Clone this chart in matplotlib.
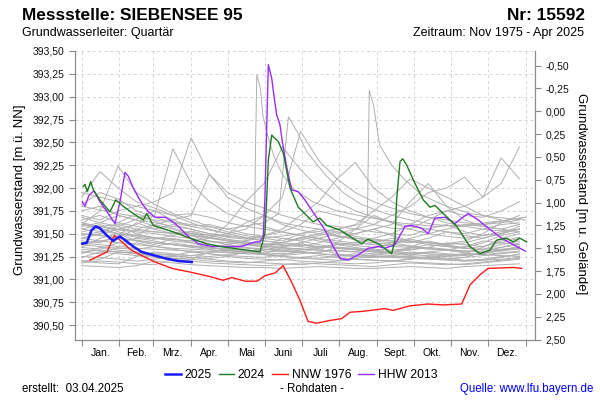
import matplotlib
matplotlib.use('Agg')
import matplotlib.pyplot as plt
from matplotlib.lines import Line2D
from matplotlib.ticker import FixedLocator, FuncFormatter, NullFormatter

plt.rcParams['font.family'] = ['Liberation Sans', 'DejaVu Sans']

# Geländehöhe (m ü. NN), für die rechte Achse
GROUND = 392.84

month_starts = [0, 31, 59, 90, 120, 151, 181, 212, 243, 273, 304, 334, 365]
month_names = ['Jan.', 'Feb.', 'Mrz.', 'Apr.', 'Mai', 'Juni', 'Juli', 'Aug.',
               'Sept.', 'Okt.', 'Nov.', 'Dez.']

# 2025
days_2025 = [0.5, 4.1, 8.2, 11.5, 15, 19.2, 23.3, 26, 28, 31.5, 35.6, 42.4, 49.3,
             57.6, 68.5, 79.4, 90.5]
lvl_2025 = [391.39, 391.40, 391.54, 391.58, 391.56, 391.50, 391.45, 391.42, 391.44,
            391.47, 391.43, 391.36, 391.30, 391.27, 391.23, 391.20, 391.19]

# 2024
days_2024 = [1.3, 2.7, 4.6, 7.4, 9.5, 15, 20.6, 23.3, 28, 34.2, 42.4, 50.7, 53.5, 58.9,
             75.3, 89.1, 102.8, 113.7, 124.7, 135.7, 146.6, 150.7, 152.1, 153.5, 156.3,
             157.6, 161.7, 165.8, 171.3, 178.1, 190.2, 195.9, 201.5, 212.4, 220.6, 230.3,
             235.4, 245.3, 254.9, 257.6, 259, 261.8, 264, 267.3, 274.1, 280.9, 286.4,
             290.5, 297.4, 308.4, 319.3, 327.5, 335.7, 341.3, 349.5, 354.9, 360.4, 366]
lvl_2024 = [392.02, 392.04, 391.96, 392.07, 391.98, 391.87, 391.78, 391.74, 391.87, 391.80,
            391.72, 391.65, 391.72, 391.59, 391.52, 391.45, 391.39, 391.36, 391.34, 391.32,
            391.30, 391.51, 391.87, 392.31, 392.58, 392.56, 392.51, 392.38, 392.00, 391.79,
            391.63, 391.67, 391.59, 391.54, 391.47, 391.39, 391.44, 391.38, 391.28, 391.43,
            391.87, 392.29, 392.32, 392.25, 392.05, 391.87, 391.79, 391.81, 391.72, 391.58,
            391.36, 391.28, 391.32, 391.43, 391.45, 391.41, 391.45, 391.41]

# NNW 1976
days_1976 = [6.8, 20.8, 26.9, 31.5, 39.7, 47.9, 60.3, 74.3, 89.1, 105.5, 116.2, 123.6,
             134.3, 144.2, 150.8, 159, 165.6, 173, 179.5, 186.1, 193.3, 204.2, 213.8,
             220.6, 231.3, 249.4, 256, 270, 284.8, 297.1, 312.5, 319.4, 327.6, 334.2,
             354.8, 361.8]
lvl_1976 = [391.21, 391.30, 391.48, 391.43, 391.33, 391.27, 391.19, 391.12, 391.08, 391.03,
            390.99, 391.02, 390.98, 390.98, 391.04, 391.07, 391.15, 390.96, 390.77, 390.54,
            390.52, 390.55, 390.57, 390.64, 390.65, 390.68, 390.66, 390.71, 390.73, 390.72,
            390.73, 390.94, 391.05, 391.12, 391.13, 391.12]

# HHW 2013
days_2013 = [0.5, 2.7, 6, 10.1, 15, 21.9, 27.4, 31.5, 35.6, 38.3, 42.4, 46.5, 50.7, 54.8,
             60.3, 68.5, 74, 79.4, 87.7, 95.9, 106.9, 115.1, 117.8, 131.6, 142.5, 146.6,
             149.3, 150.7, 152.1, 153.5, 156.3, 158.4, 160.4, 163.1, 165, 168.6, 172.7,
             178.1, 183.6, 189.1, 194.6, 200.1, 205.6, 212.4, 219.2, 227.5, 235.7, 243.9,
             249.4, 257.6, 265.9, 271.4, 279.6, 285, 290.5, 298.8, 307, 312.5, 317.9,
             326.2, 334.4, 345.4, 353.6, 364.6]
lvl_2013 = [391.85, 391.80, 391.92, 391.97, 391.85, 391.72, 391.61, 391.85, 392.17, 392.13,
            392.00, 391.90, 391.81, 391.74, 391.68, 391.68, 391.64, 391.58, 391.47, 391.39,
            391.36, 391.36, 391.36, 391.36, 391.41, 391.41, 391.47, 391.90, 392.63, 393.35,
            393.20, 392.98, 392.80, 392.69, 392.51, 392.23, 391.98, 391.96, 391.87, 391.76,
            391.65, 391.54, 391.39, 391.23, 391.21, 391.27, 391.34, 391.36, 391.34, 391.38,
            391.58, 391.59, 391.56, 391.50, 391.67, 391.68, 391.61, 391.67, 391.72, 391.65,
            391.56, 391.45, 391.39, 391.31]

# übrige Jahre (grau), 15-Tage-Raster
gray_days = list(range(0, 361, 15))
g01 = [391.15, 391.14, 391.13, 391.15, 391.20, 391.18, 391.16, 391.15, 391.14, 391.13, 391.13, 391.12, 391.13,
       391.14, 391.13, 391.12, 391.12, 391.13, 391.14, 391.13, 391.12, 391.14, 391.15, 391.16, 391.17]
g02 = [391.20, 391.22, 391.30, 391.28, 391.25, 391.23, 391.22, 391.20, 391.19, 391.18, 391.20, 391.22, 391.20,
       391.19, 391.18, 391.17, 391.18, 391.20, 391.19, 391.18, 391.17, 391.16, 391.18, 391.20, 391.22]
g03 = [391.35, 391.45, 391.50, 391.42, 391.38, 391.45, 391.40, 391.35, 391.32, 391.30, 391.28, 391.35, 391.40,
       391.33, 391.28, 391.25, 391.24, 391.26, 391.30, 391.28, 391.25, 391.24, 391.30, 391.35, 391.38]
g04 = [391.55, 391.60, 391.52, 391.48, 391.60, 391.55, 391.48, 391.42, 391.38, 391.35, 391.33, 391.31, 391.30,
       391.29, 391.35, 391.33, 391.30, 391.28, 391.27, 391.26, 391.25, 391.28, 391.35, 391.45, 391.50]
g05 = [391.90, 392.18, 392.00, 391.85, 391.78, 391.70, 391.62, 391.55, 391.50, 391.46, 391.42, 391.40, 391.38,
       391.36, 391.34, 391.33, 391.32, 391.30, 391.32, 391.35, 391.33, 391.31, 391.30, 391.32, 391.35]
g06 = [391.60, 391.75, 392.24, 391.95, 391.82, 391.72, 391.65, 391.58, 391.52, 391.48, 391.45, 391.42, 391.50,
       391.55, 391.48, 391.43, 391.40, 391.38, 391.36, 391.34, 391.32, 391.36, 391.42, 391.40, 391.38]
g07 = [391.45, 391.50, 391.55, 391.60, 391.70, 392.43, 392.05, 391.85, 391.72, 391.65, 391.58, 391.52, 391.48,
       391.45, 391.42, 391.40, 391.38, 391.36, 391.35, 391.33, 391.32, 391.31, 391.30, 391.32, 391.33]
g08 = [391.70, 391.65, 391.75, 391.80, 391.85, 391.95, 392.55, 392.15, 391.95, 391.85, 391.78, 391.70, 391.65,
       391.60, 391.58, 391.55, 391.52, 391.50, 391.48, 391.55, 391.60, 391.52, 391.48, 391.50, 391.55]
g09 = [391.50, 391.48, 391.46, 391.55, 391.60, 391.65, 391.70, 392.15, 391.90, 391.78, 391.70, 391.62, 391.58,
       391.55, 391.52, 391.50, 391.55, 391.60, 391.85, 392.05, 391.80, 391.65, 391.58, 391.55, 391.52]
g10 = [391.62, 391.58, 391.60, 391.55, 391.52, 391.50, 391.48, 391.46, 391.50, 391.55, 391.70, 391.90, 392.62,
       392.30, 392.10, 391.95, 391.85, 391.78, 391.72, 391.68, 391.65, 391.62, 391.60, 391.62, 391.65]
g11 = [391.40, 391.42, 391.45, 391.43, 391.40, 391.38, 391.36, 391.35, 391.38, 391.42, 391.48, 391.55, 391.70,
       391.85, 392.10, 392.28, 392.00, 391.85, 391.75, 391.68, 391.62, 391.58, 391.55, 391.53, 391.55]
g12 = [391.30, 391.32, 391.30, 391.28, 391.26, 391.25, 391.24, 391.23, 391.25, 391.30, 391.35, 391.40, 391.45,
       391.50, 391.55, 391.60, 391.75, 391.90, 392.10, 392.00, 391.90, 391.80, 391.70, 391.65, 391.60]
g13 = [391.45, 391.42, 391.40, 391.38, 391.36, 391.34, 391.33, 391.32, 391.31, 391.30, 391.32, 391.36, 391.40,
       391.45, 391.50, 391.55, 391.60, 391.70, 391.80, 391.95, 392.00, 392.12, 391.90, 392.05, 392.45]
g14 = [391.50, 391.48, 391.45, 391.42, 391.40, 391.38, 391.36, 391.34, 391.33, 391.32, 391.31, 391.30, 391.32,
       391.35, 391.38, 391.40, 391.45, 391.50, 391.60, 391.70, 391.75, 391.80, 391.90, 392.33, 392.10]
g15 = [391.75, 391.80, 391.70, 391.65, 391.62, 391.58, 391.55, 391.50, 391.48, 391.45, 391.42, 391.40, 391.45,
       391.50, 391.48, 391.45, 391.42, 391.40, 391.45, 391.50, 391.55, 391.60, 391.58, 391.55, 391.60]
g16 = [391.30, 391.28, 391.35, 391.40, 391.36, 391.33, 391.30, 391.28, 391.26, 391.25, 391.24, 391.27, 391.30,
       391.28, 391.26, 391.25, 391.27, 391.30, 391.33, 391.35, 391.40, 391.38, 391.36, 391.40, 391.45]
g17 = [391.95, 391.90, 391.85, 391.80, 391.75, 391.70, 391.72, 391.68, 391.62, 391.58, 391.55, 391.52, 391.60,
       391.75, 391.70, 391.65, 391.60, 391.56, 391.55, 391.65, 391.75, 391.70, 391.68, 391.75, 391.85]
g18 = [391.25, 391.24, 391.22, 391.20, 391.22, 391.26, 391.24, 391.22, 391.20, 391.19, 391.18, 391.17, 391.16,
       391.18, 391.20, 391.22, 391.21, 391.20, 391.22, 391.24, 391.22, 391.20, 391.21, 391.24, 391.28]
g19 = [391.40, 391.38, 391.36, 391.34, 391.33, 391.32, 391.31, 391.30, 391.29, 391.28, 391.35, 391.45, 391.42,
       391.38, 391.35, 391.33, 391.31, 391.30, 391.35, 391.42, 391.38, 391.34, 391.32, 391.33, 391.35]
g20 = [391.60, 391.55, 391.50, 391.48, 391.46, 391.44, 391.42, 391.45, 391.60, 391.85, 392.05, 392.45, 392.20,
       392.00, 391.85, 391.75, 391.68, 391.62, 391.58, 391.55, 391.52, 391.50, 391.55, 391.60, 391.62]
g21 = [391.48, 391.52, 391.58, 391.50, 391.45, 391.42, 391.40, 391.38, 391.36, 391.34, 391.33, 391.32, 391.34,
       391.36, 391.34, 391.32, 391.30, 391.29, 391.28, 391.30, 391.28, 391.27, 391.29, 391.31, 391.34]
g22 = [391.65, 391.70, 391.62, 391.58, 391.55, 391.60, 391.55, 391.50, 391.46, 391.44, 391.48, 391.52, 391.48,
       391.44, 391.40, 391.38, 391.40, 391.45, 391.42, 391.40, 391.38, 391.40, 391.45, 391.50, 391.55]
g23 = [391.35, 391.33, 391.40, 391.45, 391.42, 391.38, 391.35, 391.33, 391.30, 391.28, 391.27, 391.25, 391.24,
       391.23, 391.25, 391.28, 391.26, 391.25, 391.24, 391.23, 391.22, 391.24, 391.26, 391.28, 391.30]
g24 = [391.20, 391.18, 391.17, 391.25, 391.30, 391.28, 391.26, 391.25, 391.27, 391.30, 391.28, 391.26, 391.28,
       391.30, 391.32, 391.30, 391.28, 391.26, 391.25, 391.24, 391.26, 391.28, 391.27, 391.26, 391.25]
g25 = [391.28, 391.35, 391.32, 391.30, 391.28, 391.26, 391.30, 391.28, 391.25, 391.23, 391.22, 391.21, 391.24,
       391.26, 391.24, 391.22, 391.21, 391.20, 391.22, 391.25, 391.23, 391.21, 391.22, 391.25, 391.27]
g26 = [391.58, 391.62, 391.70, 391.65, 391.58, 391.52, 391.48, 391.45, 391.42, 391.40, 391.38, 391.40, 391.46,
       391.42, 391.39, 391.37, 391.35, 391.38, 391.44, 391.40, 391.37, 391.35, 391.40, 391.48, 391.52]
g27 = [391.82, 391.95, 391.88, 391.75, 391.68, 391.62, 391.58, 391.60, 391.55, 391.50, 391.47, 391.45, 391.43,
       391.48, 391.52, 391.47, 391.44, 391.42, 391.40, 391.45, 391.52, 391.48, 391.45, 391.50, 391.58]
g28 = [391.42, 391.40, 391.48, 391.62, 391.55, 391.50, 391.52, 391.46, 391.42, 391.39, 391.37, 391.35, 391.33,
       391.32, 391.31, 391.30, 391.34, 391.40, 391.37, 391.34, 391.32, 391.30, 391.33, 391.38, 391.42]
g29 = [391.18, 391.20, 391.19, 391.17, 391.16, 391.22, 391.20, 391.18, 391.17, 391.16, 391.15, 391.16, 391.18,
       391.17, 391.16, 391.15, 391.14, 391.16, 391.18, 391.17, 391.16, 391.17, 391.19, 391.21, 391.23]
g30 = [391.68, 391.62, 391.58, 391.66, 391.75, 391.65, 391.58, 391.54, 391.50, 391.62, 391.70, 391.60, 391.54,
       391.50, 391.47, 391.45, 391.43, 391.42, 391.41, 391.40, 391.39, 391.42, 391.50, 391.62, 391.70]
g31 = [391.38, 391.36, 391.34, 391.33, 391.36, 391.40, 391.37, 391.35, 391.33, 391.31, 391.29, 391.28, 391.30,
       391.34, 391.38, 391.35, 391.32, 391.30, 391.29, 391.28, 391.27, 391.26, 391.28, 391.32, 391.36]
g32 = [391.52, 391.56, 391.50, 391.46, 391.44, 391.48, 391.53, 391.48, 391.44, 391.41, 391.39, 391.37, 391.36,
       391.40, 391.45, 391.50, 391.55, 391.48, 391.42, 391.38, 391.36, 391.34, 391.36, 391.42, 391.46]
g33 = [391.24, 391.30, 391.28, 391.26, 391.24, 391.23, 391.22, 391.30, 391.32, 391.29, 391.27, 391.25, 391.23,
       391.22, 391.21, 391.23, 391.25, 391.24, 391.23, 391.22, 391.21, 391.20, 391.21, 391.22, 391.24]
g34 = [391.60, 391.58, 391.54, 391.52, 391.50, 391.47, 391.45, 391.42, 391.40, 391.38, 391.36, 391.34, 391.33,
       391.32, 391.40, 391.55, 391.70, 391.62, 391.55, 391.50, 391.47, 391.45, 391.48, 391.52, 391.55]
g35 = [391.45, 391.50, 391.62, 391.72, 391.64, 391.56, 391.50, 391.46, 391.43, 391.41, 391.39, 391.38, 391.37,
       391.36, 391.35, 391.34, 391.33, 391.32, 391.34, 391.38, 391.36, 391.34, 391.33, 391.35, 391.40]
g36 = [391.33, 391.31, 391.30, 391.29, 391.28, 391.27, 391.26, 391.29, 391.34, 391.38, 391.35, 391.32, 391.30,
       391.28, 391.27, 391.26, 391.25, 391.24, 391.26, 391.30, 391.32, 391.29, 391.27, 391.29, 391.31]

# graue Jahre mit scharfen Spitzen (eigenes Tagesraster)
mai_days = [0, 30, 60, 90, 120, 142, 143, 144, 147, 149, 152, 158, 165, 175, 190, 210, 235, 260, 290,
            320, 350, 365]
mai_lvl = [391.60, 391.55, 391.52, 391.50, 391.47, 391.45, 392.47, 393.24, 393.09, 392.80, 392.62, 392.35,
           392.15, 391.98, 391.85, 391.75, 391.68, 391.62, 391.58, 391.60, 391.65, 391.68]
jun_days = [0, 30, 60, 90, 120, 150, 162, 170, 177, 185, 200, 215, 230, 250, 270, 290, 310, 330, 350, 365]
jun_lvl = [391.80, 391.72, 391.65, 391.60, 391.55, 391.62, 391.72, 392.78, 392.62, 392.40, 392.15, 391.95,
           391.82, 391.72, 391.65, 391.60, 391.58, 391.60, 391.65, 391.68]
aug_days = [0, 30, 60, 90, 120, 150, 180, 210, 228, 235, 236.5, 240, 245, 255, 265, 280, 300, 320, 340, 365]
aug_lvl = [391.55, 391.50, 391.45, 391.42, 391.40, 391.45, 391.50, 391.55, 391.60, 391.70, 393.07, 392.91,
           392.47, 392.25, 392.10, 391.92, 391.80, 391.72, 391.68, 391.65]

gray_years = [g01, g02, g03, g04, g05, g06, g07, g08, g09, g10, g11, g12, g13, g14, g15, g16,
              g17, g18, g19, g20, g21, g22, g23, g24, g25, g26, g27, g28, g29, g30, g31, g32,
              g33, g34, g35, g36]

fig = plt.figure(figsize=(6, 4), dpi=100)
ax = fig.add_axes([75 / 600, 60 / 400, 460 / 600, 289 / 400])
y_lo, y_hi = 390.336, 393.50
ax.set_xlim(-5.5, 372.8)
ax.set_ylim(y_lo, y_hi)

grid_kw = dict(color='#d4d4d4', lw=0.7, ls=(0, (3, 3)), zorder=0)
for d in month_starts:
    ax.axvline(d, **grid_kw)
lev_ticks = [390.50 + 0.25 * i for i in range(13)]
for v in lev_ticks:
    ax.axhline(v, **grid_kw)

gray_c = '#b0b0b0'
for g in gray_years:
    ax.plot(gray_days, g, color=gray_c, lw=0.7, zorder=1)
ax.plot(mai_days, mai_lvl, color=gray_c, lw=0.7, zorder=1)
ax.plot(jun_days, jun_lvl, color=gray_c, lw=0.7, zorder=1)
ax.plot(aug_days, aug_lvl, color=gray_c, lw=0.7, zorder=1)

c_2025, c_2024, c_1976, c_2013 = '#1a1aff', '#1f7a1f', '#ff1a1a', '#9a2bff'
ax.plot(days_2013, lvl_2013, color=c_2013, lw=1.0, zorder=3)
ax.plot(days_1976, lvl_1976, color=c_1976, lw=1.0, zorder=3)
ax.plot(days_2024, lvl_2024, color=c_2024, lw=1.0, zorder=4)
ax.plot(days_2025, lvl_2025, color=c_2025, lw=1.8, zorder=5)

comma = FuncFormatter(lambda v, p: f'{v:.2f}'.replace('.', ','))
spine_c = '#8a8a8a'

ax.spines['top'].set_visible(False)
for s in ['left', 'bottom', 'right']:
    ax.spines[s].set_color(spine_c)

ax.yaxis.set_major_locator(FixedLocator(lev_ticks))
ax.yaxis.set_major_formatter(comma)
ax.xaxis.set_major_locator(FixedLocator(month_starts))
ax.xaxis.set_major_formatter(NullFormatter())
mids = [(month_starts[i] + month_starts[i + 1]) / 2 for i in range(12)]
ax.xaxis.set_minor_locator(FixedLocator(mids))
ax.set_xticklabels(month_names, minor=True)
ax.tick_params(axis='both', which='major', direction='out', length=4, color=spine_c,
               labelsize=7.5, labelcolor='#111111')
ax.tick_params(axis='x', which='minor', length=0, labelsize=7.5, pad=6)

# rechte Achse: Flurabstand
ax2 = ax.twinx()
ax2.set_ylim(GROUND - y_lo, GROUND - y_hi)
ax2.yaxis.set_major_locator(FixedLocator([-0.50 + 0.25 * i for i in range(13)]))
ax2.yaxis.set_major_formatter(comma)
ax2.tick_params(axis='y', direction='out', length=4, color=spine_c, labelsize=7.5,
                labelcolor='#111111')
ax2.spines['top'].set_visible(False)
for s in ['left', 'bottom', 'right']:
    ax2.spines[s].set_color(spine_c)

fig.text(20 / 600, 1 - 190 / 400, 'Grundwasserstand [m ü. NN]', rotation=90,
         ha='center', va='center', fontsize=9.5)
fig.text(581 / 600, 1 - 194 / 400, 'Grundwasserstand [m u. Gelände]', rotation=270,
         ha='center', va='center', fontsize=9.5)

# Kopfzeilen
fig.text(22 / 600, 1 - 15 / 400, 'Messstelle: SIEBENSEE 95', ha='left', va='center',
         fontsize=12.4, fontweight='bold')
fig.text(585 / 600, 1 - 15 / 400, 'Nr: 15592', ha='right', va='center',
         fontsize=12.4, fontweight='bold')
fig.text(22 / 600, 1 - 33 / 400, 'Grundwasserleiter: Quartär', ha='left', va='center', fontsize=9)
fig.text(584 / 600, 1 - 33 / 400, 'Zeitraum: Nov 1975 - Apr 2025', ha='right', va='center',
         fontsize=9)

# Legende
handles = [Line2D([], [], color=c_2025, lw=1.8), Line2D([], [], color=c_2024, lw=1.0),
           Line2D([], [], color=c_1976, lw=1.0), Line2D([], [], color=c_2013, lw=1.0)]
fig.legend(handles, ['2025', '2024', 'NNW 1976', 'HHW 2013'], loc='center',
           bbox_to_anchor=(301 / 600, 1 - 375 / 400), ncol=4, frameon=False, fontsize=8.7,
           handlelength=1.3, handletextpad=0.3, columnspacing=0.6)

# Fußzeile
fig.text(22 / 600, 1 - 389 / 400, 'erstellt:  03.04.2025', ha='left', va='center', fontsize=8.3)
fig.text(312 / 600, 1 - 389 / 400, '- Rohdaten -', ha='center', va='center', fontsize=8.3)
fig.text(593 / 600, 1 - 389 / 400, 'Quelle: www.lfu.bayern.de', ha='right', va='center',
         fontsize=8.3, color='#0000ff')

fig.savefig('out.png', dpi=100)
